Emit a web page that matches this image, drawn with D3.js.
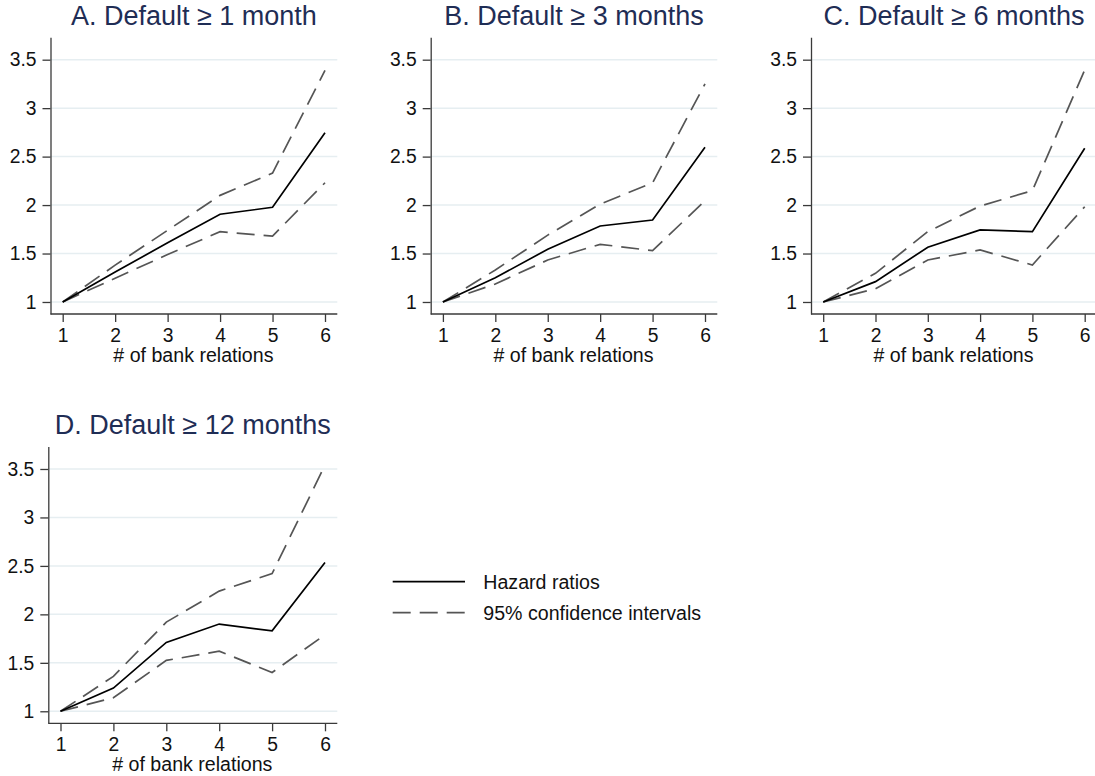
<!DOCTYPE html>
<html>
<head>
<meta charset="utf-8">
<script src="https://cdn.jsdelivr.net/npm/d3@7"></script>
<style>
  html, body { margin: 0; padding: 0; background: #fff; }
  svg { display: block; font-family: "Liberation Sans", Arial, Helvetica, sans-serif; }
</style>
</head>
<body>
<svg id="chart" width="1095" height="776"></svg>
<script>
// ---- data ----
const bankRelations = [1, 2, 3, 4, 5, 6];
const panelTitles = ["A. Default \u2265 1 month", "B. Default \u2265 3 months", "C. Default \u2265 6 months", "D. Default \u2265 12 months"];

const hazardA = [1, 1.31, 1.61, 1.905, 1.977, 2.747];
const upperA  = [1, 1.38, 1.74, 2.10, 2.33, 3.39];
const lowerA  = [1, 1.245, 1.49, 1.725, 1.68, 2.23];

const hazardB = [1, 1.25, 1.544, 1.784, 1.846, 2.597];
const upperB  = [1, 1.33, 1.69, 2.01, 2.23, 3.25];
const lowerB  = [1, 1.186, 1.433, 1.595, 1.53, 2.045];

const hazardC = [1, 1.21, 1.565, 1.743, 1.726, 2.586];
const upperC  = [1, 1.296, 1.726, 1.99, 2.149, 3.394];
const lowerC  = [1, 1.137, 1.433, 1.537, 1.382, 1.983];

const hazardD = [1, 1.24, 1.71, 1.90, 1.83, 2.535];
const upperD  = [1, 1.36, 1.92, 2.24, 2.42, 3.54];
const lowerD  = [1, 1.14, 1.525, 1.62, 1.40, 1.79];

const yTicks = [1, 1.5, 2, 2.5, 3, 3.5];
const yTickLabels = ["1", "1.5", "2", "2.5", "3", "3.5"];
const xTickLabels = ["1", "2", "3", "4", "5", "6"];
const xAxisTitle = "# of bank relations";
const legendLabels = ["Hazard ratios", "95% confidence intervals"];

// ---- layout ----
const panels = [
  { title: panelTitles[0], hr: hazardA, up: upperA, lo: lowerA, left: 50.5, right: 337.3, top: 37.3, bottom: 314 },
  { title: panelTitles[1], hr: hazardB, up: upperB, lo: lowerB, left: 430.7, right: 717.3, top: 37.3, bottom: 314 },
  { title: panelTitles[2], hr: hazardC, up: upperC, lo: lowerC, left: 811, right: 1097, top: 37.3, bottom: 314 },
  { title: panelTitles[3], hr: hazardD, up: upperD, lo: lowerD, left: 48.3, right: 337.3, top: 446.6, bottom: 723.3 }
];

const svg = d3.select("#chart");
const titleColor = "#1f2d55";
const gridColor = "#e6eef1";
const axisColor = "#3a3a3a";
const dashColor = "#555555";
const dashArray = "18,9";

panels.forEach(p => {
  const g = svg.append("g");
  const x = d3.scaleLinear().domain([1, 6]).range([p.left + 12.2, p.right - 12.3]);
  const y = d3.scaleLinear().domain([0.876, 3.731]).range([p.bottom, p.top]);

  // grid lines
  g.selectAll("line.grid").data(yTicks).join("line")
    .attr("class", "grid")
    .attr("x1", p.left).attr("x2", p.right)
    .attr("y1", d => y(d)).attr("y2", d => y(d))
    .attr("stroke", gridColor).attr("stroke-width", 1.5);

  // y axis
  const yAxis = d3.axisLeft(y).tickValues(yTicks)
    .tickFormat((d, i) => yTickLabels[i]).tickSizeInner(8).tickSizeOuter(0).tickPadding(6);
  const ya = g.append("g").attr("transform", `translate(${p.left},0)`).call(yAxis);
  ya.select(".domain").attr("stroke", axisColor).attr("stroke-width", 1.3);
  ya.selectAll(".tick line").attr("stroke", axisColor).attr("stroke-width", 1.3);
  ya.selectAll(".tick text").attr("font-size", 19.3).attr("fill", "#111")
    .attr("font-family", "'Liberation Sans', Arial, sans-serif");

  // x axis
  const xAxis = d3.axisBottom(x).tickValues(bankRelations)
    .tickFormat((d, i) => xTickLabels[i]).tickSizeInner(8).tickSizeOuter(0).tickPadding(6);
  const xa = g.append("g").attr("transform", `translate(0,${p.bottom})`).call(xAxis);
  xa.select(".domain").remove();
  xa.append("line").attr("x1", p.left).attr("x2", p.right).attr("y1", 0).attr("y2", 0)
    .attr("stroke", axisColor).attr("stroke-width", 1.3);
  xa.selectAll(".tick line").attr("stroke", axisColor).attr("stroke-width", 1.3);
  xa.selectAll(".tick text").attr("font-size", 19.3).attr("fill", "#111")
    .attr("font-family", "'Liberation Sans', Arial, sans-serif");

  // axis title
  g.append("text").attr("x", (p.left + p.right) / 2 - 0.5).attr("y", p.bottom + 48)
    .attr("text-anchor", "middle").attr("font-size", 19.6).attr("fill", "#111").text(xAxisTitle);

  // panel title
  g.append("text").attr("x", (p.left + p.right) / 2).attr("y", p.top - 12.5)
    .attr("text-anchor", "middle").attr("font-size", 27).attr("fill", titleColor).text(p.title);

  const line = d3.line().x((d, i) => x(bankRelations[i])).y(d => y(d));

  g.append("path").datum(p.up).attr("d", line).attr("fill", "none")
    .attr("stroke", dashColor).attr("stroke-width", 1.7).attr("stroke-dasharray", dashArray);
  g.append("path").datum(p.lo).attr("d", line).attr("fill", "none")
    .attr("stroke", dashColor).attr("stroke-width", 1.7).attr("stroke-dasharray", dashArray);
  g.append("path").datum(p.hr).attr("d", line).attr("fill", "none")
    .attr("stroke", "#000").attr("stroke-width", 1.7);
});

// legend
const leg = svg.append("g");
const legendStyles = [
  { stroke: "#000", dash: null },
  { stroke: dashColor, dash: dashArray }
];
legendLabels.forEach((lab, i) => {
  const yy = 581.7 + i * 31;
  leg.append("line").attr("x1", 392.7).attr("x2", 465).attr("y1", yy).attr("y2", yy)
    .attr("stroke", legendStyles[i].stroke).attr("stroke-width", 1.7)
    .attr("stroke-dasharray", legendStyles[i].dash);
  leg.append("text").attr("x", 483.3).attr("y", yy + 6.8)
    .attr("font-size", 19.6).attr("fill", "#111").text(lab);
});
</script>
</body>
</html>
